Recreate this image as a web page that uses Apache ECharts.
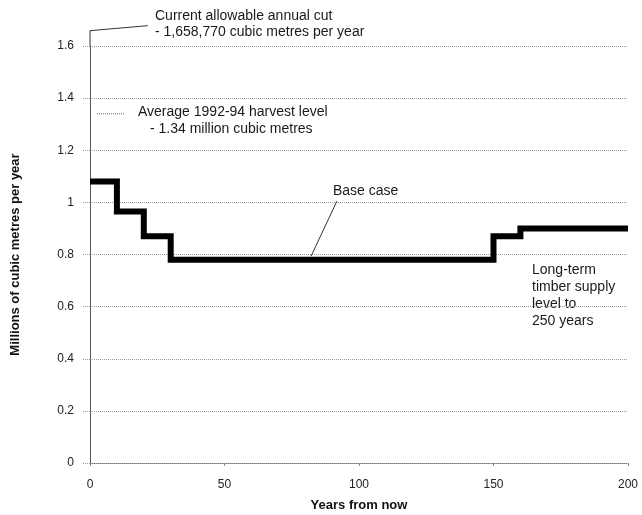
<!DOCTYPE html>
<html><head><meta charset="utf-8">
<script src="https://cdn.jsdelivr.net/npm/echarts@6/dist/echarts.min.js"></script>
<style>html,body{margin:0;padding:0;background:#fff}#c{width:642px;height:515px}</style>
</head><body><div id="c"></div>
<script>
// Step breakpoints (years) and levels (millions m3/yr)
const stepYears  = [0, 10, 20, 30, 150, 160, 200];
const stepLevels = [1.08, 0.965, 0.87, 0.78, 0.87, 0.90, 0.90];
const yTicks = [0, 0.2, 0.4, 0.6, 0.8, 1, 1.2, 1.4, 1.6];
const xTicks = [0, 50, 100, 150, 200];
const currentAAC = 1.65877;
const avgHarvest = 1.34;
const aacLeader = [[0, 1.6], [0, currentAAC], [21.5, 1.678]];
const avgLeader = [[2.6, avgHarvest], [13, avgHarvest]];
const baseLeader = [[82.2, 0.794], [91.8, 1.005]];

const stepData = stepYears.map((x, i) => [x, stepLevels[i]]);
const font = 'Liberation Sans, Arial, Helvetica, sans-serif';
const chart = echarts.init(document.getElementById('c'), null, {renderer: 'canvas'});
chart.setOption({
  animation: false,
  backgroundColor: '#fff',
  grid: {left: 90, right: 14, top: 46, bottom: 52, containLabel: false, outerBoundsMode: 'none'},
  xAxis: {
    type: 'value', min: 0, max: 200, interval: 50,
    axisLine: {show: true, lineStyle: {color: '#777', width: 1, type: 'dotted'}},
    axisTick: {show: true, length: 3, inside: false, lineStyle: {color: '#888'}},
    splitLine: {show: false},
    axisLabel: {color: '#222', fontFamily: font, fontSize: 12, margin: 16},
    name: 'Years from now', nameLocation: 'middle', nameGap: 36,
    nameTextStyle: {color: '#111', fontFamily: font, fontSize: 13, fontWeight: 'bold'}
  },
  yAxis: {
    type: 'value', min: 0, max: 1.6, interval: 0.2,
    axisLine: {show: true, lineStyle: {color: '#555', width: 1}},
    axisTick: {show: true, length: 7, inside: false, lineStyle: {color: '#999', type: 'dotted'}},
    splitLine: {show: true, lineStyle: {color: '#999', width: 1, type: 'dotted'}},
    axisLabel: {color: '#222', fontFamily: font, fontSize: 12, margin: 16,
      formatter: v => (Math.abs(v - 1) < 1e-9 ? '1' : (v === 0 ? '0' : v.toFixed(1)))},
    name: 'Millions of cubic metres per year', nameLocation: 'middle', nameGap: 68,
    nameTextStyle: {color: '#111', fontFamily: font, fontSize: 13, fontWeight: 'bold'}
  },
  series: [
    {type: 'line', step: 'end', data: stepData, symbol: 'none',
     lineStyle: {color: '#000', width: 6, cap: 'butt', join: 'miter'}, z: 5},
    {type: 'line', data: aacLeader, symbol: 'none', clip: false,
     lineStyle: {color: '#333', width: 1}},
    {type: 'line', data: avgLeader, symbol: 'none', clip: false,
     lineStyle: {color: '#666', width: 1, type: 'dotted'}},
    {type: 'line', data: baseLeader, symbol: 'none', clip: false,
     lineStyle: {color: '#333', width: 1}}
  ],
  graphic: [
    {type: 'text', left: 155, top: 8, style: {text: 'Current allowable annual cut\n- 1,658,770 cubic metres per year', font: '14px ' + font, fill: '#1a1a1a', lineHeight: 16}},
    {type: 'text', left: 138, top: 104, style: {text: 'Average 1992-94 harvest level', font: '14px ' + font, fill: '#1a1a1a', lineHeight: 16}},
    {type: 'text', left: 150, top: 121, style: {text: '- 1.34 million cubic metres', font: '14px ' + font, fill: '#1a1a1a', lineHeight: 16}},
    {type: 'text', left: 333, top: 184, style: {text: 'Base case', font: '14px ' + font, fill: '#1a1a1a'}},
    {type: 'text', left: 532, top: 261, style: {text: 'Long-term\ntimber supply\nlevel to\n250 years', font: '14px ' + font, fill: '#1a1a1a', lineHeight: 17.3}}
  ]
});
</script></body></html>
